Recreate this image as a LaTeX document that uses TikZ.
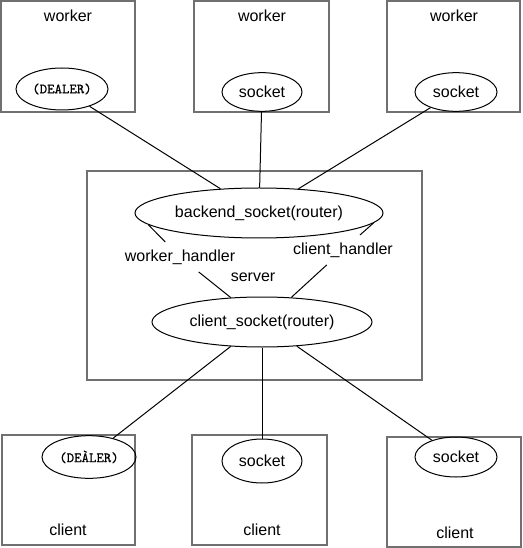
\documentclass[tikz,border=0pt]{standalone}
\usepackage{fontspec}
\setmainfont{Liberation Sans}
\newfontfamily\dealerfont{Latin Modern Mono}[FakeBold=0.6]
\usetikzlibrary{shapes.geometric}
\definecolor{boxgray}{HTML}{707070}
\tikzset{
  box/.style={draw=boxgray, line width=0.9pt},
  ell/.style={draw=black, ellipse, inner sep=0pt, line width=0.75pt},
  lbl/.style={font=\fontsize{12pt}{14pt}\selectfont, inner sep=0pt},
  dealer/.style={font=\dealerfont\fontsize{10.6pt}{12pt}\selectfont},
  conn/.style={draw=black, line width=0.75pt},
  gapnode/.style={font=\fontsize{12pt}{14pt}\selectfont, inner xsep=1pt, minimum height=22pt}
}
\begin{document}
\begin{tikzpicture}[x=0.75pt,y=-0.75pt]
\useasboundingbox (0,0) rectangle (523,548);
% boxes
\draw[box] (1,1) rectangle (135,112);
\draw[box] (194,1) rectangle (329,112);
\draw[box] (387,1) rectangle (520,112);
\draw[box] (87,171) rectangle (422,380);
\draw[box] (2,435) rectangle (135,545);
\draw[box] (192,435) rectangle (327,545);
\draw[box] (387,437) rectangle (521,547);
% box labels
\node[lbl] (lw1) at (68,16) {worker};
\node[lbl] (lw2) at (262,16) {worker};
\node[lbl] (lw3) at (454,16) {worker};
\node[lbl] (lc1) at (68,530) {client};
\node[lbl] (lc2) at (262,530) {client};
\node[lbl] (lc3) at (455,533) {client};
\node[lbl] (srv) at (253,277) {server};
% ellipses
\node[ell, minimum width=69pt, minimum height=31.5pt, dealer] (d1) at (62,89) {(DEALER)};
\node[ell, minimum width=60pt, minimum height=29pt, lbl] (s2) at (262,92) {socket};
\node[ell, minimum width=61.5pt, minimum height=29pt, lbl] (s3) at (456,92) {socket};
\node[ell, minimum width=186pt, minimum height=37.5pt, lbl] (be) at (259,213) {backend\_socket(router)};
\node[ell, minimum width=165pt, minimum height=37.5pt, lbl] (cs) at (262,322) {client\_socket(router)};
\node[ell, minimum width=70.5pt, minimum height=32pt, dealer] (d4) at (89,457) {(DEA^^^^0300LER)};
\node[ell, minimum width=60pt, minimum height=33pt, lbl] (s5) at (262,461) {socket};
\node[ell, minimum width=61.5pt, minimum height=30pt, lbl] (s6) at (456,457) {socket};
% handler labels
\node[gapnode] (wh) at (180,257) {worker\_handler};
\node[gapnode] (ch) at (343,250) {client\_handler};
% connectors
\draw[conn] (d1) -- (be);
\draw[conn] (s2) -- (be);
\draw[conn] (s3) -- (be);
\draw[conn] (cs) -- (d4);
\draw[conn] (cs) -- (s5);
\draw[conn] (cs) -- (s6);
\draw[conn] (be.186) -- (wh) -- (cs.142);
\draw[conn] (be.-5) -- (ch) -- (cs.40);
\end{tikzpicture}
\end{document}
